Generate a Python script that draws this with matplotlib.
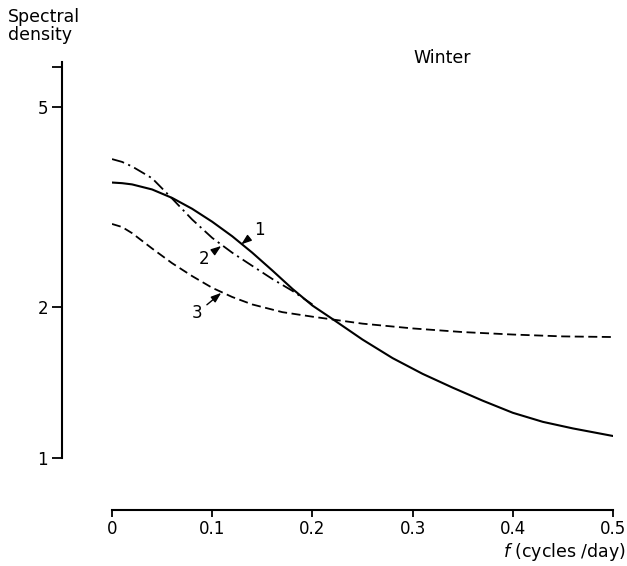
import matplotlib
matplotlib.use("Agg")
import matplotlib.pyplot as plt
from matplotlib.ticker import FixedLocator, NullLocator

# values (frequency in cycles/day, spectral density)
f1 = [0.00, 0.01, 0.02, 0.04, 0.06, 0.08, 0.10, 0.12, 0.14, 0.16, 0.18, 0.20,
      0.22, 0.25, 0.28, 0.31, 0.34, 0.37, 0.40, 0.43, 0.46, 0.50]
s1 = [3.53, 3.52, 3.50, 3.42, 3.29, 3.13, 2.95, 2.76, 2.56, 2.36, 2.17, 2.01,
      1.89, 1.72, 1.58, 1.47, 1.38, 1.30, 1.23, 1.18, 1.145, 1.106]

f2 = [0.00, 0.01, 0.02, 0.04, 0.06, 0.08, 0.10, 0.12, 0.14, 0.16, 0.18, 0.20]
s2 = [3.93, 3.88, 3.80, 3.60, 3.28, 2.98, 2.74, 2.56, 2.41, 2.27, 2.15, 2.02]

f3 = [0.00, 0.01, 0.02, 0.04, 0.06, 0.08, 0.10, 0.12, 0.14, 0.17, 0.20,
      0.25, 0.30, 0.35, 0.40, 0.45, 0.50]
s3 = [2.92, 2.88, 2.80, 2.61, 2.44, 2.30, 2.18, 2.09, 2.02, 1.95, 1.91,
      1.85, 1.81, 1.78, 1.76, 1.745, 1.74]

xticks = [0, 0.1, 0.2, 0.3, 0.4, 0.5]
xticklabels = ["0", "0.1", "0.2", "0.3", "0.4", "0.5"]
yticks = [1, 2, 5, 6]
yticklabels = ["1", "2", "5", ""]

W, H = 627, 566
fig = plt.figure(figsize=(W / 100, H / 100), dpi=100)
ax = fig.add_axes([112 / W, 108 / H, 501 / W, 396 / H])

ax.plot(f1, s1, color="black", lw=1.5, solid_capstyle="round")
ax.plot(f2, s2, color="black", lw=1.3, dashes=(7, 2.5, 1.2, 2.5))
ax.plot(f3, s3, color="black", lw=1.3, dashes=(5, 2.5))

ax.set_yscale("log")
ax.set_xlim(0, 0.5)
ax.set_ylim(1, 6.13)

ax.xaxis.set_major_locator(FixedLocator(xticks))
ax.set_xticklabels(xticklabels)
ax.yaxis.set_major_locator(FixedLocator(yticks))
ax.set_yticklabels(yticklabels)
ax.yaxis.set_minor_locator(NullLocator())

for side in ("top", "right"):
    ax.spines[side].set_visible(False)
ax.spines["left"].set_position(("outward", 36))
ax.spines["bottom"].set_position(("outward", 37.5))
for side in ("left", "bottom"):
    ax.spines[side].set_linewidth(1.5)

ax.tick_params(axis="x", direction="out", length=5, width=1.3, pad=2, labelsize=12)
ax.tick_params(axis="y", direction="out", length=7, width=1.3, pad=3, labelsize=12)

arrow = dict(arrowstyle="-|>,head_length=0.5,head_width=0.18", color="black",
             lw=1.0, shrinkA=2, shrinkB=0)
ax.annotate("1", xy=(0.129, 2.66), xytext=(0.147, 2.84), ha="center", va="center",
            fontsize=12, arrowprops=arrow)
ax.annotate("2", xy=(0.109, 2.64), xytext=(0.092, 2.49), ha="center", va="center",
            fontsize=12, arrowprops=arrow)
ax.annotate("3", xy=(0.109, 2.13), xytext=(0.0845, 1.94), ha="center", va="center",
            fontsize=12, arrowprops=arrow)

fig.text(442 / W, 1 - 58 / H, "Winter", ha="center", va="center", fontsize=12.5)
fig.text(8 / W, 1 - 8 / H, "Spectral\ndensity", ha="left", va="top",
         fontsize=12.5, linespacing=1.0)
fig.text(1 - 1 / W, 1 - 552 / H, r"$f$ (cycles /day)", ha="right", va="center",
         fontsize=12.5)

fig.savefig("out.png", dpi=100)
